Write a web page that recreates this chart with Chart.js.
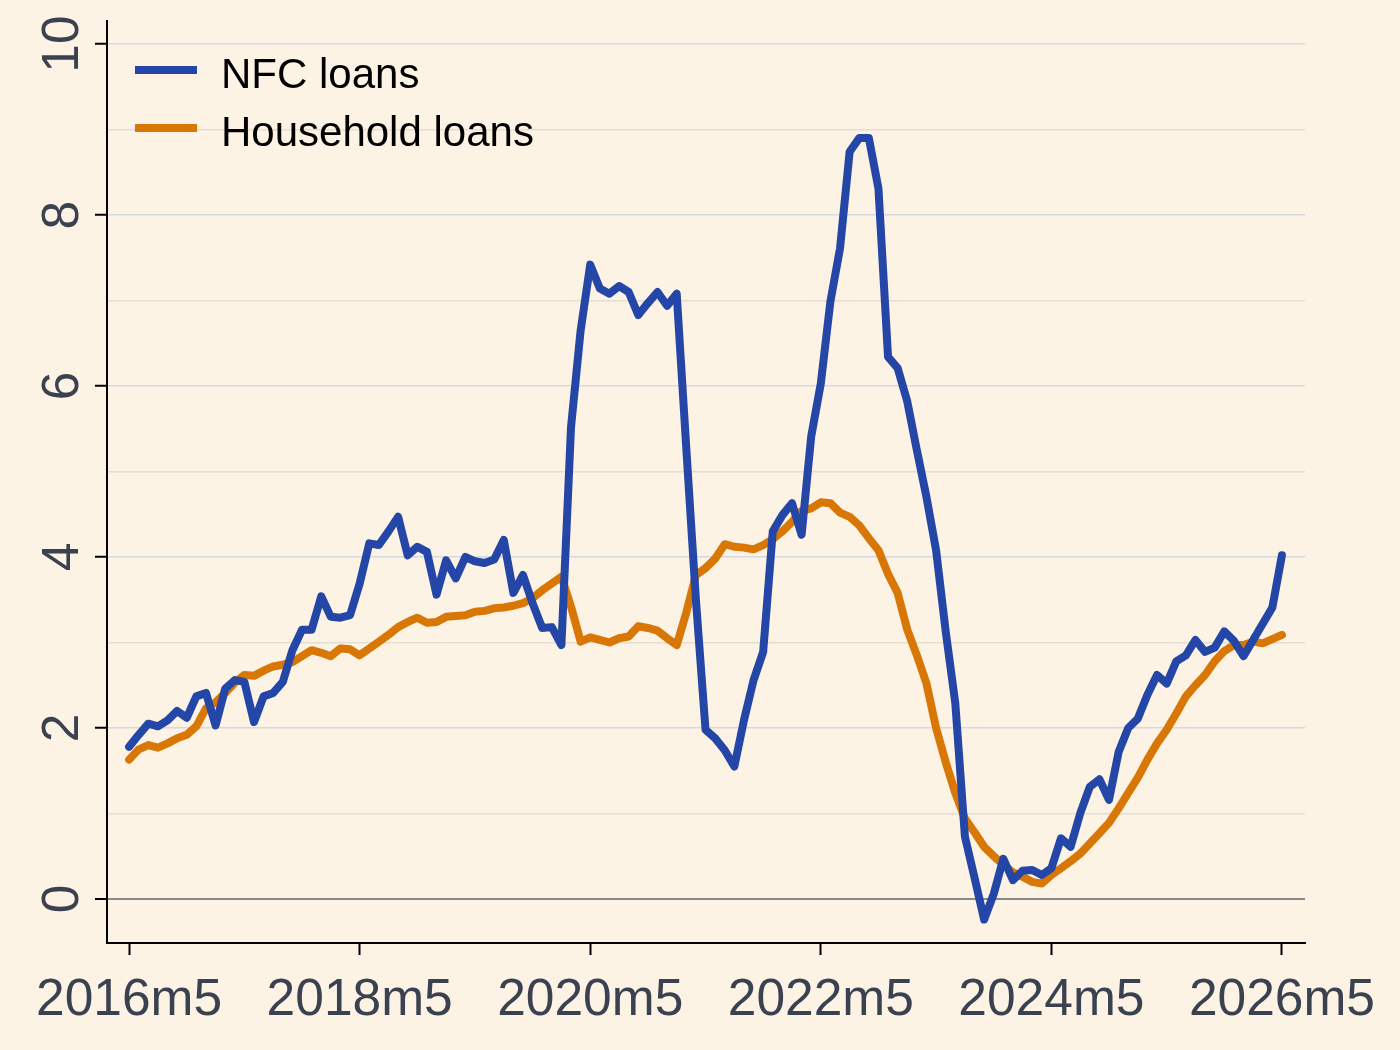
<!DOCTYPE html>
<html>
<head>
<meta charset="utf-8">
<script src="https://cdn.jsdelivr.net/npm/chart.js@4.4.1/dist/chart.umd.min.js"></script>
<style>
  html, body { margin: 0; padding: 0; background: #fdf3e5; }
  canvas { display: block; }
</style>
</head>
<body>
<canvas id="loanChart" width="1400" height="1050"></canvas>
<script>
// ── Data (monthly, 2016m5 .. 2026m5) ─────────────────────
const START_YEAR  = 2016;
const START_MONTH = 5;

const NFC_LOANS = [
  1.78, 1.92, 2.05, 2.02, 2.09, 2.20, 2.12, 2.37, 2.41, 2.03, 2.46, 2.56,
  2.54, 2.07, 2.37, 2.41, 2.54, 2.91, 3.15, 3.15, 3.54, 3.30, 3.29, 3.32,
  3.69, 4.16, 4.14, 4.30, 4.47, 4.02, 4.12, 4.06, 3.56, 3.96, 3.75, 4.00,
  3.95, 3.93, 3.97, 4.20, 3.58, 3.79, 3.46, 3.17, 3.18, 2.97, 5.52, 6.65,
  7.42, 7.14, 7.08, 7.17, 7.10, 6.83, 6.97, 7.10, 6.94, 7.08, 5.27, 3.50,
  1.98, 1.88, 1.74, 1.55, 2.09, 2.56, 2.89, 4.30, 4.49, 4.63, 4.26, 5.41,
  6.03, 6.99, 7.61, 8.74, 8.90, 8.90, 8.31, 6.34, 6.21, 5.82, 5.25, 4.70,
  4.08, 3.13, 2.29, 0.73, 0.25, -0.24, 0.06, 0.47, 0.22, 0.33, 0.34, 0.28,
  0.36, 0.71, 0.61, 1.00, 1.31, 1.40, 1.16, 1.72, 2.00, 2.11, 2.39, 2.62,
  2.52, 2.78, 2.85, 3.03, 2.89, 2.94, 3.13, 3.02, 2.84, 3.03, 3.22, 3.41,
  4.02
];

const HOUSEHOLD_LOANS = [
  1.63, 1.75, 1.80, 1.77, 1.82, 1.88, 1.92, 2.02, 2.23, 2.30, 2.41, 2.53,
  2.62, 2.61, 2.67, 2.72, 2.74, 2.77, 2.84, 2.91, 2.88, 2.84, 2.93, 2.92,
  2.85, 2.93, 3.01, 3.09, 3.18, 3.24, 3.29, 3.23, 3.24, 3.30, 3.31, 3.32,
  3.36, 3.37, 3.40, 3.41, 3.43, 3.46, 3.52, 3.61, 3.69, 3.77, 3.42, 3.01,
  3.06, 3.03, 3.00, 3.05, 3.07, 3.19, 3.17, 3.14, 3.05, 2.97, 3.35, 3.79,
  3.87, 3.98, 4.15, 4.12, 4.11, 4.09, 4.14, 4.21, 4.30, 4.41, 4.54, 4.57,
  4.64, 4.63, 4.52, 4.47, 4.37, 4.22, 4.08, 3.80, 3.58, 3.15, 2.85, 2.52,
  2.00, 1.60, 1.24, 0.94, 0.78, 0.61, 0.50, 0.40, 0.31, 0.26, 0.20, 0.18,
  0.28, 0.36, 0.44, 0.53, 0.65, 0.77, 0.89, 1.06, 1.24, 1.42, 1.63, 1.82,
  1.98, 2.17, 2.37, 2.50, 2.62, 2.78, 2.90, 2.97, 2.97, 3.01, 2.99, 3.04,
  3.09
];

const X_TICK_MONTHS = [0, 24, 48, 72, 96, 120];
const X_TICK_LABELS = ['2016m5', '2018m5', '2020m5', '2022m5', '2024m5', '2026m5'];
const Y_GRID_VALUES = [0, 1, 2, 3, 4, 5, 6, 7, 8, 9, 10];
const Y_TICK_LABELS = [0, 2, 4, 6, 8, 10];

// ── Style ─────────────────────────────────────────────────
const BG      = '#fdf3e5';
const BLUE    = '#2446a7';
const ORANGE  = '#d97706';
const TXT     = '#3a4251';
const FONT    = '"Liberation Sans", Arial, sans-serif';

const monthName = i => {
  const m = START_MONTH - 1 + i;
  return (START_YEAR + Math.floor(m / 12)) + 'm' + (m % 12 + 1);
};
const toPoints = arr => arr.map((v, i) => ({ x: i, y: v, label: monthName(i) }));

// ── Plugins ───────────────────────────────────────────────
const bgPlugin = {
  id: 'bg',
  beforeDraw(chart) {
    const c = chart.ctx;
    c.save();
    c.fillStyle = BG;
    c.fillRect(0, 0, chart.width, chart.height);
    c.restore();
  }
};

const labelPlugin = {
  id: 'labels',
  afterDraw(chart) {
    const c = chart.ctx;
    const xs = chart.scales.x, ys = chart.scales.y;
    const area = chart.chartArea;
    c.save();
    c.fillStyle = TXT;
    c.font = '51.5px ' + FONT;
    c.textAlign = 'center';
    c.textBaseline = 'alphabetic';
    X_TICK_MONTHS.forEach((m, k) => {
      c.fillText(X_TICK_LABELS[k], xs.getPixelForValue(m), area.bottom + 72);
    });
    Y_TICK_LABELS.forEach(v => {
      c.save();
      c.translate(area.left - 29, ys.getPixelForValue(v));
      c.rotate(-Math.PI / 2);
      c.fillText(String(v), 0, 0);
      c.restore();
    });

    // legend, inside top-left
    c.font = '42px ' + FONT;
    c.textAlign = 'left';
    c.fillStyle = '#000';
    chart.data.datasets.forEach((ds, k) => {
      const y = 70 + k * 58;
      c.strokeStyle = ds.borderColor;
      c.lineWidth = 8;
      c.lineCap = 'butt';
      c.beginPath();
      c.moveTo(area.left + 28, y);
      c.lineTo(area.left + 90, y);
      c.stroke();
      c.fillText(ds.label, area.left + 114, y + 18);
    });
    c.restore();
  }
};

// ── Chart ─────────────────────────────────────────────────
const lineDs = (label, arr, color) => ({
  label, data: toPoints(arr),
  borderColor: color, backgroundColor: color,
  borderWidth: 8, pointRadius: 0, tension: 0,
  borderJoinStyle: 'round', borderCapStyle: 'round', fill: false,
});

new Chart(document.getElementById('loanChart'), {
  type: 'line',
  data: {
    datasets: [
      lineDs('NFC loans', NFC_LOANS, BLUE),
      lineDs('Household loans', HOUSEHOLD_LOANS, ORANGE),
    ]
  },
  options: {
    responsive: false, animation: false,
    layout: { padding: { top: 21, right: 95, left: 0, bottom: 0 } },
    plugins: { legend: { display: false }, tooltip: { enabled: false } },
    scales: {
      x: {
        type: 'linear', min: -2.3, max: 122.4,
        ticks: { display: false },
        afterBuildTicks: s => { s.ticks = X_TICK_MONTHS.map(v => ({ value: v })); },
        afterFit: s => { s.height = 107; },
        grid: { drawOnChartArea: false, drawTicks: true, tickLength: 12, tickColor: '#000', tickWidth: 2 },
        border: { display: true, color: '#000', width: 2 },
      },
      y: {
        type: 'linear', min: -0.515, max: 10.27,
        ticks: { display: false },
        afterBuildTicks: s => { s.ticks = Y_GRID_VALUES.map(v => ({ value: v })); },
        afterFit: s => { s.width = 107; },
        grid: {
          color: c => c.tick.value === 0 ? '#8a8a8a' : (c.tick.value % 2 === 0 ? '#d5d9e1' : '#e4ddd2'),
          lineWidth: c => c.tick.value === 0 ? 2 : 1.5,
          drawTicks: true, tickLength: 12, tickWidth: 2,
          tickColor: c => c.tick.value % 2 === 0 ? '#000' : 'rgba(0,0,0,0)',
        },
        border: { display: true, color: '#000', width: 2 },
      }
    }
  },
  plugins: [bgPlugin, labelPlugin]
});
</script>
</body>
</html>
